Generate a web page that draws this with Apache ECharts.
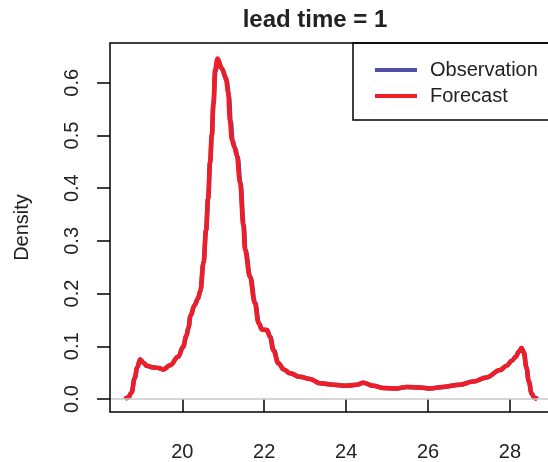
<!DOCTYPE html>
<html><head><meta charset="utf-8">
<script src="https://cdn.jsdelivr.net/npm/echarts@6/dist/echarts.min.js"></script>
<style>html,body{margin:0;padding:0;background:#fff}#c{width:548px;height:462px}</style>
</head><body><div id="c"></div>
<script>
var xTicks = [20, 22, 24, 26, 28];
var yTicks = [0, 0.1, 0.2, 0.3, 0.4, 0.5, 0.6];

var fcX = [18.60,18.68,18.76,18.84,18.90,18.97,19.05,19.13,19.29,19.42,19.54,19.70,19.90,20.02,20.10,20.15,20.20,20.30,20.38,20.44,20.52,20.58,20.63,20.68,20.72,20.76,20.80,20.86,20.96,21.06,21.12,21.16,21.21,21.27,21.33,21.41,21.49,21.53,21.65,21.77,21.86,21.94,22.06,22.14,22.22,22.34,22.48,22.63,22.87,23.12,23.36,23.69,24.01,24.26,24.42,24.66,24.91,25.23,25.48,25.80,26.05,26.37,26.78,27.10,27.43,27.76,27.92,28.04,28.14,28.22,28.28,28.34,28.40,28.46,28.53,28.60,28.67];
var fcY = [0.000,0.003,0.012,0.040,0.060,0.075,0.069,0.063,0.060,0.059,0.056,0.064,0.080,0.099,0.120,0.135,0.158,0.178,0.190,0.205,0.260,0.320,0.380,0.450,0.500,0.560,0.625,0.646,0.628,0.610,0.582,0.530,0.492,0.478,0.462,0.410,0.330,0.283,0.232,0.182,0.144,0.132,0.131,0.118,0.093,0.068,0.056,0.049,0.042,0.038,0.030,0.027,0.025,0.027,0.031,0.025,0.021,0.020,0.023,0.022,0.020,0.023,0.027,0.033,0.041,0.055,0.063,0.072,0.080,0.090,0.097,0.088,0.060,0.033,0.010,0.002,0.000];

var obX = [18.60,18.68,18.76,18.84,18.90,18.97,19.05,19.13,19.29,19.42,19.54,19.70,19.90,20.02,20.10,20.15,20.20,20.30,20.38,20.44,20.52,20.58,20.63,20.68,20.72,20.76,20.81,20.87,20.98,21.08,21.14,21.18,21.23,21.29,21.35,21.42,21.50,21.54,21.66,21.78,21.87,21.95,22.07,22.15,22.23,22.35,22.48,22.63,22.87,23.12,23.36,23.69,24.01,24.26,24.42,24.66,24.91,25.23,25.48,25.80,26.05,26.37,26.78,27.10,27.43,27.76,27.92,28.04,28.14,28.22,28.28,28.34,28.40,28.46,28.53,28.60,28.67];
var obY = [0.000,0.003,0.012,0.040,0.060,0.075,0.069,0.063,0.060,0.059,0.056,0.064,0.080,0.099,0.120,0.135,0.158,0.178,0.190,0.205,0.260,0.320,0.380,0.450,0.500,0.560,0.622,0.642,0.625,0.605,0.575,0.528,0.490,0.476,0.460,0.410,0.330,0.283,0.232,0.182,0.144,0.132,0.131,0.118,0.093,0.068,0.056,0.049,0.042,0.038,0.030,0.027,0.025,0.027,0.031,0.025,0.021,0.020,0.023,0.022,0.020,0.023,0.027,0.033,0.041,0.055,0.063,0.072,0.080,0.090,0.097,0.088,0.060,0.033,0.010,0.002,0.000];

function pairs(xs, ys){ return xs.map(function(x,i){ return [x, ys[i]]; }); }

var FONT = 'Liberation Sans, Arial, Helvetica, sans-serif';
var chart = echarts.init(document.getElementById('c'), null, {renderer:'canvas'});
chart.setOption({
  animation: false,
  backgroundColor: '#fff',
  grid: {left: 110, top: 43, right: 0, bottom: 50, show: false},
  xAxis: {
    type: 'value', min: 18.235, max: 28.928,
    axisLine: {show: false},
    splitLine: {show: false},
    axisTick: {show: true, length: 13, customValues: xTicks, lineStyle: {color: '#000', width: 1.5}},
    axisLabel: {customValues: xTicks, margin: 30, fontSize: 20, color: '#222', fontFamily: FONT}
  },
  yAxis: {
    type: 'value', min: -0.02467, max: 0.6755,
    name: 'Density', nameLocation: 'middle', nameRotate: 90, nameGap: 78,
    nameTextStyle: {fontSize: 20, color: '#222', fontFamily: FONT},
    axisLine: {show: false},
    splitLine: {show: false},
    axisTick: {show: true, length: 13, customValues: yTicks, lineStyle: {color: '#000', width: 1.5}},
    axisLabel: {customValues: yTicks, rotate: 90, margin: 28, fontSize: 20, color: '#222', fontFamily: FONT,
      formatter: function(v){ return v.toFixed(1); }}
  },
  legend: {
    show: true, left: 370, top: 55, orient: 'vertical', itemWidth: 42, itemHeight: 4, itemGap: 6,
    icon: 'rect',
    textStyle: {fontSize: 20, color: '#222', fontFamily: FONT, padding: [0, 0, 0, 8]},
    data: ['Observation', 'Forecast']
  },
  graphic: [
    {type: 'text', x: 315, y: 20, style: {text: 'lead time = 1', font: 'bold 24px ' + FONT, fill: '#222', textAlign: 'center', textVerticalAlign: 'middle'}},
    {type: 'rect', shape: {x: 110, y: 43, width: 500, height: 369}, style: {fill: 'none', stroke: '#000', lineWidth: 1.5}, z: 10},
    {type: 'rect', shape: {x: 353, y: 43, width: 210, height: 77}, style: {fill: 'none', stroke: '#000', lineWidth: 1.5}, z: 10}
  ],
  series: [
    {
      name: 'Observation', type: 'line', data: pairs(obX, obY), showSymbol: false, smooth: 0.4, smoothMonotone: 'x',
      color: '#5050A4', lineStyle: {color: '#5050A4', width: 4.5},
      markLine: {silent: true, symbol: 'none', label: {show: false}, lineStyle: {color: '#C8C8C8', width: 1.5, type: 'solid'}, data: [{yAxis: 0}]}
    },
    {
      name: 'Forecast', type: 'line', data: pairs(fcX, fcY), showSymbol: false, smooth: 0.4, smoothMonotone: 'x',
      color: '#EE1D27', lineStyle: {color: '#EE1D27', width: 4.5}
    }
  ]
});
</script></body></html>
